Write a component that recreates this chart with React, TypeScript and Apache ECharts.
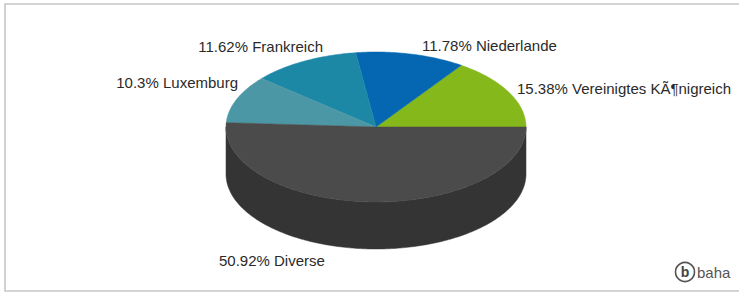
import React, { useEffect, useRef } from "react";
import * as echarts from "echarts";

// ---- data ----
const categories = ["Vereinigtes KÃ¶nigreich", "Niederlande", "Frankreich", "Luxemburg", "Diverse"];
const shares = [15.38, 11.78, 11.62, 10.3, 50.92];
const topColors = ["#85b81b", "#0567b1", "#1c88a6", "#4c97a5", "#4b4b4b"];
const sideColors = ["#5c8612", "#044a82", "#136279", "#356d78", "#343434"];

// ---- layout (pixels) ----
const CX = 376;
const CY = 127;
const RX = 150;
const RY = 75;
const DEPTH = 47;
// label anchor [x, y, align]
const labelLayout: [number, number, string][] = [
  [517, 88, "left"],
  [422, 45, "left"],
  [323, 46, "right"],
  [238, 82, "right"],
  [219, 260, "left"],
];

const total = shares.reduce((a, b) => a + b, 0);
const startAngles: number[] = [];
{
  let acc = 0;
  for (const v of shares) {
    startAngles.push((acc / total) * 360);
    acc += v;
  }
}

const pt = (deg: number, dy = 0): number[] => {
  const r = (deg * Math.PI) / 180;
  return [CX + RX * Math.cos(r), CY - RY * Math.sin(r) + dy];
};

const arcPoints = (a1: number, a2: number, dy = 0): number[][] => {
  const pts: number[][] = [];
  const n = Math.max(2, Math.ceil(Math.abs(a2 - a1) / 1));
  for (let k = 0; k <= n; k++) pts.push(pt(a1 + ((a2 - a1) * k) / n, dy));
  return pts;
};

export default function App() {
  const ref = useRef<HTMLDivElement>(null);
  useEffect(() => {
    if (!ref.current) return;
    const chart = echarts.init(ref.current, undefined, { renderer: "svg" });
    const data = shares.map((v, i) => [v, i]);

    const sideRender = (params: any, api: any) => {
      const i = api.value(1);
      const v = api.value(0);
      const a1 = startAngles[i];
      const a2 = a1 + (v / total) * 360;
      const s = Math.max(a1, 180);
      const e = Math.min(a2, 360);
      if (e <= s) return { type: "group", children: [] };
      const top = arcPoints(s, e);
      const bottom = arcPoints(e, s, DEPTH);
      return {
        type: "polygon",
        shape: { points: top.concat(bottom) },
        style: { fill: sideColors[i], stroke: sideColors[i], lineWidth: 0.5 },
      };
    };

    const topRender = (params: any, api: any) => {
      const i = api.value(1);
      const v = api.value(0);
      const a1 = startAngles[i];
      const a2 = a1 + (v / total) * 360;
      const pts = [[CX, CY]].concat(arcPoints(a1, a2));
      const [lx, ly, align] = labelLayout[i];
      return {
        type: "group",
        children: [
          {
            type: "polygon",
            shape: { points: pts },
            style: { fill: topColors[i], stroke: topColors[i], lineWidth: 0.5 },
          },
          {
            type: "text",
            x: lx,
            y: ly,
            style: {
              text: `${shares[i]}% ${categories[i]}`,
              fill: "#2a2a2a",
              font: "15px 'Liberation Sans', Arial, sans-serif",
              textAlign: align,
              textVerticalAlign: "middle",
            },
            z2: 10,
          },
        ],
      };
    };

    chart.setOption({
      animation: false,
      backgroundColor: "#ffffff",
      graphic: [
        {
          type: "rect",
          shape: { x: 5, y: 4, width: 740, height: 287 },
          style: { fill: "none", stroke: "#c6c6c6", lineWidth: 1.6 },
          z: 0,
        },
        {
          type: "circle",
          shape: { cx: 685, cy: 272, r: 9.5 },
          style: { fill: "none", stroke: "#555555", lineWidth: 1.6 },
          z: 5,
        },
        {
          type: "text",
          x: 685,
          y: 272,
          style: {
            text: "b",
            fill: "#444444",
            font: "bold 14px 'Liberation Sans', Arial, sans-serif",
            textAlign: "center",
            textVerticalAlign: "middle",
          },
          z: 5,
        },
        {
          type: "text",
          x: 697,
          y: 272,
          style: {
            text: "baha",
            fill: "#555555",
            font: "15px 'Liberation Sans', Arial, sans-serif",
            textAlign: "left",
            textVerticalAlign: "middle",
          },
          z: 5,
        },
      ],
      series: [
        {
          type: "custom",
          name: "sides",
          coordinateSystem: "none",
          data,
          renderItem: sideRender,
          z: 1,
          silent: true,
        },
        {
          type: "custom",
          name: "tops",
          coordinateSystem: "none",
          data,
          renderItem: topRender,
          z: 2,
          silent: true,
        },
      ],
    });
    return () => chart.dispose();
  }, []);
  return (
    <div
      ref={ref}
      style={{ position: "absolute", left: 0, top: 0, width: 739, height: 293 }}
    />
  );
}
